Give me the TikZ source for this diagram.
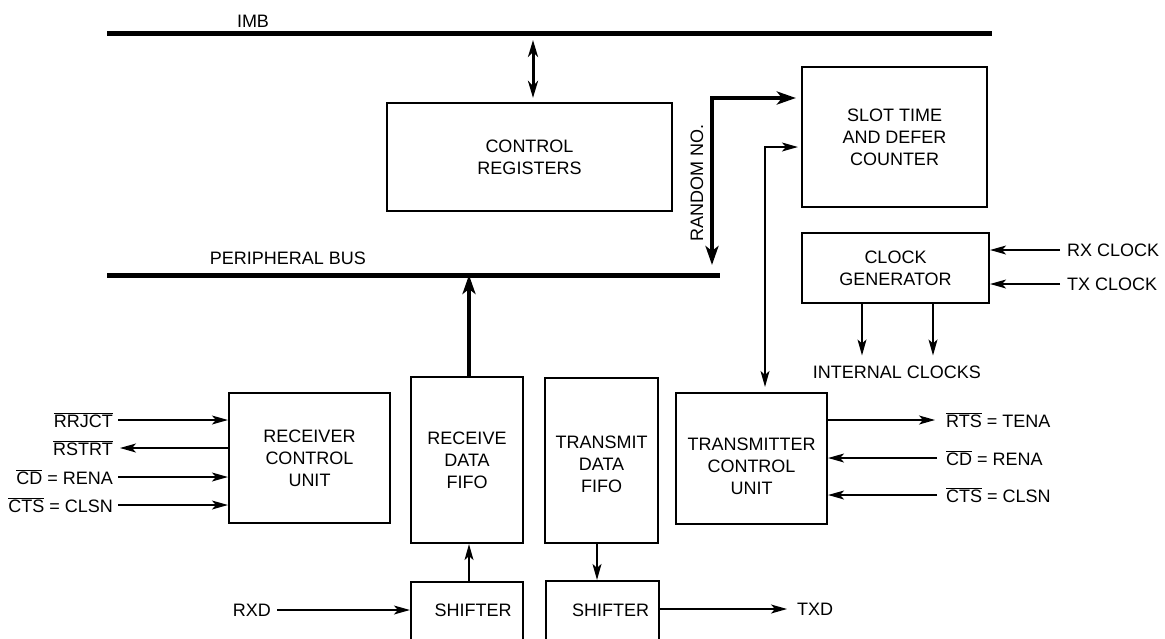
\documentclass[tikz,border=0pt]{standalone}
\usepackage{fontspec}
\setmainfont{Liberation Sans}
\usepackage{tikz}
\usetikzlibrary{arrows.meta, positioning, calc}
\newcommand{\ovl}[1]{\ensuremath{\overline{\mbox{#1}}}}
\tikzstyle{arrow}    = [-{Stealth[length=16pt, width=9pt, inset=4pt]}, line width=1.1pt]
\tikzstyle{dblarrow} = [{Stealth[length=16pt, width=9pt, inset=4pt]}-{Stealth[length=16pt, width=9pt, inset=4pt]}, line width=1.1pt]
\tikzstyle{fatarrow} = [-{Stealth[length=19pt, width=13pt, inset=5pt]}, line width=4pt]
\tikzstyle{fatdbl}   = [{Stealth[length=19pt, width=13pt, inset=5pt]}-{Stealth[length=19pt, width=13pt, inset=5pt]}, line width=4pt]

\begin{document}
\begin{tikzpicture}[x=1pt, y=-1pt,
  every node/.style={font=\fontsize{18}{22}\selectfont},
  block/.style={draw, line width=2.2pt, align=center, inner sep=0pt},
  sig/.style={inner sep=0pt},
  bus/.style={line width=5pt}
]
\useasboundingbox (0,0) rectangle (1165,638);

% Buses
\coordinate (imbL) at (107,33);
\coordinate (imbR) at (992,33);
\draw[bus] (imbL) -- (imbR);
\node[sig] (imb) at (253,21) {IMB};

\coordinate (pbL) at (107,275);
\coordinate (pbR) at (720,275);
\draw[bus] (pbL) -- (pbR);
\node[sig] (pbus) at (288,258) {PERIPHERAL BUS};

% Blocks
\node[block, minimum width=285pt, minimum height=108pt] (ctrl) at (529.5,157) {CONTROL\\REGISTERS};
\node[block, minimum width=185pt, minimum height=140pt] (slot) at (894.5,137) {SLOT TIME\\AND DEFER\\COUNTER};
\node[block, minimum width=187pt, minimum height=70pt] (clk) at (895.5,268) {CLOCK\\GENERATOR};
\node[block, minimum width=161pt, minimum height=130pt] (rcu) at (309.5,458) {RECEIVER\\CONTROL\\UNIT};
\node[block, minimum width=112pt, minimum height=166pt] (rfifo) at (467,460) {RECEIVE\\DATA\\FIFO};
\node[block, minimum width=113pt, minimum height=165pt,
  label={[name=tfifotext, align=center, yshift=-3.5pt]center:TRANSMIT\\DATA\\FIFO}] (tfifo) at (601.5,460.5) {};
\node[block, minimum width=151pt, minimum height=131pt,
  label={[name=tcutext, align=center, yshift=-8pt]center:TRANSMITTER\\CONTROL\\UNIT}] (tcu) at (751.5,458.5) {};
\node[block, minimum width=112pt, minimum height=60pt,
  label={[name=rshifttext, xshift=6pt, yshift=2pt]center:SHIFTER}] (rshift) at (467,612) {};
\node[block, minimum width=113pt, minimum height=60pt,
  label={[name=tshifttext, xshift=8pt, yshift=1pt]center:SHIFTER}] (tshift) at (602.5,611) {};

% IMB <-> registers
\draw[{Stealth[length=17pt, width=10pt, inset=5pt]}-{Stealth[length=17pt, width=10pt, inset=5pt]}, line width=3pt]
  ([xshift=3.5pt, yshift=-7pt]imbL -| ctrl.north) -- ([xshift=3.5pt, yshift=4pt]ctrl.north);

% Random number path
\draw[fatdbl] ([xshift=-8pt, yshift=10pt]pbR) |- ([xshift=-5pt, yshift=39pt]slot.west);
\node[sig, rotate=90] (rnd) at (697,183) {RANDOM NO.};

% Slot counter <-> transmitter
\draw[dblarrow] ([xshift=13.5pt, yshift=5pt]tcu.north) |- ([xshift=-3pt, yshift=-10pt]slot.west);

% Clock generator
\node[sig, anchor=west] (rxclk) at (1067,250) {RX CLOCK};
\node[sig, anchor=west] (txclk) at (1067,284) {TX CLOCK};
\draw[arrow] ([xshift=-7pt]rxclk.west) -- (rxclk.west -| clk.east);
\draw[arrow] ([xshift=-7pt]txclk.west) -- (txclk.west -| clk.east);
\node[sig] (intclk) at (897,372) {INTERNAL CLOCKS};
\draw[arrow] ($(clk.south)+(-33.5,0)$) -- ($(clk.south |- intclk.north)+(-33.5,-10)$);
\draw[arrow] ($(clk.south)+(37.5,0)$) -- ($(clk.south |- intclk.north)+(37.5,-10)$);

% Receiver control signals
\node[sig, anchor=east] (rrjct) at (113,420) {\ovl{RRJCT}};
\node[sig, anchor=east] (rstrt) at (113,448) {\ovl{RSTRT}};
\node[sig, anchor=east] (rcd) at (113,477) {\ovl{CD} = RENA};
\node[sig, anchor=east] (rcts) at (113,505) {\ovl{CTS} = CLSN};
\draw[arrow] ([xshift=5pt]rrjct.east) -- (rrjct.east -| rcu.west);
\draw[arrow] (rstrt.east -| rcu.west) -- ([xshift=7pt]rstrt.east);
\draw[arrow] ([xshift=5pt]rcd.east) -- (rcd.east -| rcu.west);
\draw[arrow] ([xshift=5pt]rcts.east) -- (rcts.east -| rcu.west);

% Transmitter control signals
\node[sig, anchor=west] (trts) at (946,420) {\ovl{RTS} = TENA};
\node[sig, anchor=west] (tcd) at (946,458) {\ovl{CD} = RENA};
\node[sig, anchor=west] (tcts) at (946,495) {\ovl{CTS} = CLSN};
\draw[arrow] (trts.west -| tcu.east) -- ([xshift=-11pt]trts.west);
\draw[arrow] ([xshift=-9pt]tcd.west) -- (tcd.west -| tcu.east);
\draw[arrow] ([xshift=-9pt]tcts.west) -- (tcts.west -| tcu.east);

% FIFO paths
\draw[fatarrow] ([xshift=2pt]rfifo.north) -- ([xshift=2pt]rfifo.north |- pbL);
\draw[arrow] ([xshift=2pt]rshift.north) -- ([xshift=2pt]rfifo.south);
\draw[arrow] ([xshift=-4.5pt]tfifo.south) -- ([xshift=-4.5pt]tfifo.south |- tshift.north);

% Serial data
\node[sig, anchor=east] (rxd) at (271,610) {RXD};
\node[sig, anchor=west] (txd) at (797,609) {TXD};
\draw[arrow] ([xshift=6pt]rxd.east) -- (rxd.east -| rshift.west);
\draw[arrow] (txd.west -| tshift.east) -- ([xshift=-10pt]txd.west);

\end{tikzpicture}
\end{document}
